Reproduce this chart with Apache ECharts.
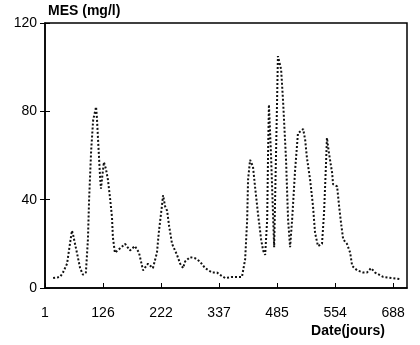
<!DOCTYPE html>
<html>
<head>
<meta charset="utf-8">
<script src="https://cdn.jsdelivr.net/npm/echarts@6/dist/echarts.min.js"></script>
<style>html,body{margin:0;padding:0;background:#fff}#c{width:420px;height:345px}</style>
</head>
<body>
<div id="c"></div>
<script>
// X tick labels (dates, jours) placed every 20 samples
var xTickLabels = ['1', '126', '222', '337', '485', '554', '688'];
var samplesPerTick = 20;
// sample position along the record
var samplePos = [2.8, 5.2, 6.2, 7.6, 8.6, 9.3, 9.7, 11.0, 12.1, 13.1, 14.1, 14.8, 15.2, 15.9, 16.6, 17.6, 17.9, 18.3, 19.0, 19.3, 19.7, 20.3, 21.0, 21.7, 22.4, 23.1, 23.4, 24.1, 25.9, 27.6, 29.3, 31.0, 32.4, 33.8, 35.5, 37.2, 38.6, 39.3, 40.3, 40.7, 41.4, 42.1, 42.8, 43.8, 45.5, 46.6, 47.6, 48.3, 50.0, 51.7, 53.4, 55.2, 57.6, 59.3, 60.3, 62.1, 64.5, 67.9, 69.0, 69.7, 70.0, 70.7, 71.7, 72.4, 73.4, 74.5, 75.2, 75.9, 76.6, 76.9, 77.2, 77.9, 79.0, 79.3, 80.0, 80.3, 81.4, 82.1, 83.1, 83.8, 84.5, 85.2, 86.2, 87.2, 89.0, 89.7, 90.3, 91.4, 92.4, 93.1, 94.1, 95.5, 96.2, 96.9, 97.2, 97.9, 99.0, 99.3, 100.7, 101.4, 102.1, 102.8, 104.1, 105.2, 105.9, 107.6, 109.7, 111.0, 112.4, 113.8, 116.6, 119.7, 122.4];
// MES (mg/l)
var mesValues = [4.5, 5, 7, 11, 20, 26, 24, 16, 9, 6, 7, 22, 40, 62, 76, 82, 77, 67, 50, 45, 50, 57, 54, 49, 41, 32, 23, 16, 18, 20, 17, 19, 16, 8, 11, 9, 16, 26, 37, 42, 37, 35, 28, 20, 15, 11, 9, 12, 14, 13.5, 12, 9, 7, 7, 6, 4.5, 5, 5, 13, 31, 49, 58, 55, 46, 34, 22, 17, 15, 31, 61, 83, 61, 18.5, 38, 84, 105, 99, 84, 58, 31, 18.5, 31, 53, 70, 72, 67, 59, 49, 37, 25, 19, 20, 34, 57, 68, 61, 52, 47, 46, 37, 29, 22, 20, 16, 10, 8, 7, 7, 9, 7, 5, 4.5, 4];
var yTicks = [0, 40, 80, 120];

var data = samplePos.map(function (s, i) { return [s, mesValues[i]]; });
var font = 'Liberation Sans, Arial, sans-serif';
var chart = echarts.init(document.getElementById('c'), null, {renderer: 'canvas'});
chart.setOption({
  animation: false,
  grid: {left: 45, right: 13, top: 23, bottom: 57, show: true, borderColor: '#000', borderWidth: 1.5},
  xAxis: {
    type: 'value', min: 0, max: 124.8, interval: samplesPerTick,
    name: 'Date(jours)', nameLocation: 'end', nameGap: -22,
    nameTextStyle: {fontFamily: font, fontSize: 14, fontWeight: 'bold', color: '#000', align: 'right', verticalAlign: 'top', padding: [36, 0, 0, 0]},
    axisLine: {lineStyle: {color: '#000', width: 1.5}},
    axisTick: {inside: true, length: 5, lineStyle: {color: '#000'}},
    splitLine: {show: false},
    axisLabel: {
      margin: 18, fontFamily: font, fontSize: 14, color: '#000', showMaxLabel: false,
      formatter: function (v) { var k = v / samplesPerTick; return Number.isInteger(k) && xTickLabels[k] !== undefined ? xTickLabels[k] : ''; }
    }
  },
  yAxis: [{
    type: 'value', min: yTicks[0], max: yTicks[yTicks.length - 1], interval: yTicks[1] - yTicks[0],
    name: 'MES (mg/l)', nameLocation: 'end', nameGap: 5,
    nameTextStyle: {fontFamily: font, fontSize: 14, fontWeight: 'bold', color: '#000', align: 'left', padding: [0, 0, 0, 3]},
    axisLine: {show: true, lineStyle: {color: '#000', width: 1.5}},
    axisTick: {show: true, length: 5, lineStyle: {color: '#000'}},
    splitLine: {show: false},
    axisLabel: {margin: 8, fontFamily: font, fontSize: 14, color: '#000'}
  }, {
    type: 'value', position: 'left', min: yTicks[0], max: yTicks[yTicks.length - 1], interval: yTicks[1] - yTicks[0],
    axisLine: {show: false}, axisLabel: {show: false}, splitLine: {show: false},
    axisTick: {show: true, inside: true, length: 5, lineStyle: {color: '#000'}}
  }],
  series: [{
    type: 'line', data: data, yAxisIndex: 0, symbol: 'none', smooth: false,
    lineStyle: {color: '#111', width: 2, type: [2, 2]}
  }]
});
</script>
</body>
</html>
